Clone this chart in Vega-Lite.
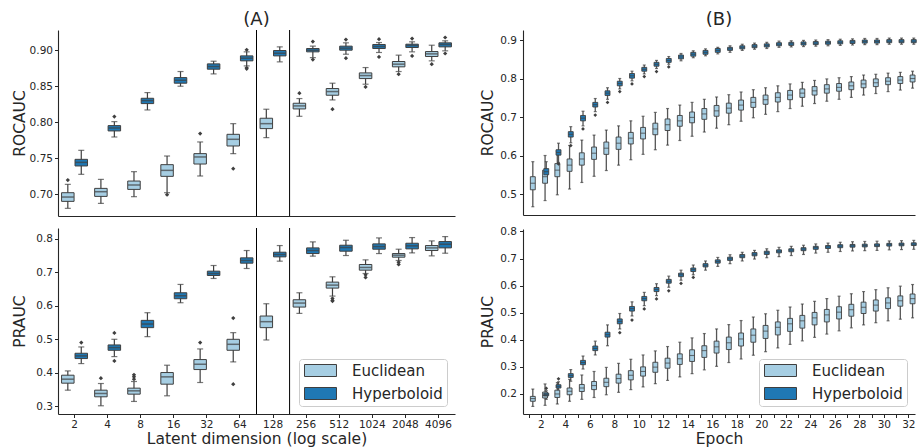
{
"$schema": "https://vega.github.io/schema/vega-lite/v6.json",
"background": "white",
"padding": {"left": 12, "top": 10, "right": 0, "bottom": 0},
"config": {
  "font": "DejaVu Sans",
  "view": {"stroke": null},
  "axis": {"domainColor": "#262626", "tickColor": "#262626", "labelColor": "#262626", "titleColor": "#262626", "labelFontSize": 10.5, "titleFontSize": 15.5, "titleFontWeight": "normal", "tickSize": 3.5, "grid": false, "domainWidth": 1.1, "tickWidth": 1, "labelOverlap": false},
  "title": {"fontSize": 18, "fontWeight": "normal", "color": "#262626", "anchor": "middle", "frame": "group", "offset": 1},
  "legend": {"title": null, "orient": "bottom-right", "offset": 8, "padding": 4, "strokeColor": "#cccccc", "fillColor": "rgba(255,255,255,0.85)", "cornerRadius": 3, "symbolType": "M-1,-1H4.333V1H-1Z", "symbolSize": 144, "symbolStrokeColor": "#3f3f3f", "symbolStrokeWidth": 1, "symbolOpacity": 1, "labelFontSize": 15, "labelColor": "#262626", "labelOffset": 34, "rowPadding": 6, "labelLimit": 300}
},
"datasets": {
  "ar": [
    {"d":2,"s":"Euclidean","lo":0.6806,"q1":0.6903,"md":0.6963,"q3":0.7023,"hi":0.7139},
    {"d":2,"s":"Hyperboloid","lo":0.7278,"q1":0.7394,"md":0.7444,"q3":0.7486,"hi":0.7611},
    {"d":4,"s":"Euclidean","lo":0.6875,"q1":0.6972,"md":0.7037,"q3":0.7083,"hi":0.7208},
    {"d":4,"s":"Hyperboloid","lo":0.7796,"q1":0.7880,"md":0.7921,"q3":0.7954,"hi":0.8009},
    {"d":8,"s":"Euclidean","lo":0.6968,"q1":0.7069,"md":0.7130,"q3":0.7185,"hi":0.7315},
    {"d":8,"s":"Hyperboloid","lo":0.8171,"q1":0.8259,"md":0.8301,"q3":0.8333,"hi":0.8412},
    {"d":16,"s":"Euclidean","lo":0.7023,"q1":0.7250,"md":0.7333,"q3":0.7412,"hi":0.7532},
    {"d":16,"s":"Hyperboloid","lo":0.8500,"q1":0.8542,"md":0.8583,"q3":0.8620,"hi":0.8704},
    {"d":32,"s":"Euclidean","lo":0.7255,"q1":0.7421,"md":0.7519,"q3":0.7565,"hi":0.7727},
    {"d":32,"s":"Hyperboloid","lo":0.8671,"q1":0.8736,"md":0.8773,"q3":0.8810,"hi":0.8847},
    {"d":64,"s":"Euclidean","lo":0.7565,"q1":0.7671,"md":0.7764,"q3":0.7833,"hi":0.7981},
    {"d":64,"s":"Hyperboloid","lo":0.8782,"q1":0.8852,"md":0.8889,"q3":0.8921,"hi":0.8977},
    {"d":128,"s":"Euclidean","lo":0.7787,"q1":0.7912,"md":0.7981,"q3":0.8056,"hi":0.8181},
    {"d":128,"s":"Hyperboloid","lo":0.8838,"q1":0.8921,"md":0.8958,"q3":0.8995,"hi":0.9046},
    {"d":256,"s":"Euclidean","lo":0.8083,"q1":0.8185,"md":0.8227,"q3":0.8264,"hi":0.8329},
    {"d":256,"s":"Hyperboloid","lo":0.8898,"q1":0.8977,"md":0.9000,"q3":0.9023,"hi":0.9056},
    {"d":512,"s":"Euclidean","lo":0.8310,"q1":0.8375,"md":0.8426,"q3":0.8468,"hi":0.8542},
    {"d":512,"s":"Hyperboloid","lo":0.8944,"q1":0.9000,"md":0.9028,"q3":0.9056,"hi":0.9102},
    {"d":1024,"s":"Euclidean","lo":0.8528,"q1":0.8606,"md":0.8648,"q3":0.8685,"hi":0.8759},
    {"d":1024,"s":"Hyperboloid","lo":0.8968,"q1":0.9023,"md":0.9051,"q3":0.9079,"hi":0.9106},
    {"d":2048,"s":"Euclidean","lo":0.8704,"q1":0.8769,"md":0.8806,"q3":0.8843,"hi":0.8931},
    {"d":2048,"s":"Hyperboloid","lo":0.8977,"q1":0.9037,"md":0.9065,"q3":0.9083,"hi":0.9116},
    {"d":4096,"s":"Euclidean","lo":0.8852,"q1":0.8912,"md":0.8949,"q3":0.8981,"hi":0.9069},
    {"d":4096,"s":"Hyperboloid","lo":0.8991,"q1":0.9046,"md":0.9079,"q3":0.9102,"hi":0.9130}
  ],
  "aro": [
    {"d":2,"s":"Euclidean","v":0.7199},
    {"d":4,"s":"Hyperboloid","v":0.8079},
    {"d":16,"s":"Euclidean","v":0.6995},
    {"d":32,"s":"Euclidean","v":0.7843},
    {"d":64,"s":"Euclidean","v":0.7356},
    {"d":64,"s":"Hyperboloid","v":0.9005},
    {"d":64,"s":"Hyperboloid","v":0.8755},
    {"d":64,"s":"Hyperboloid","v":0.8741},
    {"d":256,"s":"Euclidean","v":0.8403},
    {"d":256,"s":"Hyperboloid","v":0.9120},
    {"d":256,"s":"Hyperboloid","v":0.8870},
    {"d":512,"s":"Euclidean","v":0.8181},
    {"d":512,"s":"Hyperboloid","v":0.9148},
    {"d":512,"s":"Hyperboloid","v":0.8889},
    {"d":1024,"s":"Euclidean","v":0.8491},
    {"d":1024,"s":"Hyperboloid","v":0.9153},
    {"d":1024,"s":"Hyperboloid","v":0.8907},
    {"d":2048,"s":"Euclidean","v":0.8667},
    {"d":2048,"s":"Hyperboloid","v":0.9162},
    {"d":2048,"s":"Hyperboloid","v":0.8921},
    {"d":4096,"s":"Euclidean","v":0.8806},
    {"d":4096,"s":"Hyperboloid","v":0.9176},
    {"d":4096,"s":"Hyperboloid","v":0.8954}
  ],
  "ap": [
    {"d":2,"s":"Euclidean","lo":0.3485,"q1":0.3693,"md":0.3812,"q3":0.3931,"hi":0.4059},
    {"d":2,"s":"Hyperboloid","lo":0.4277,"q1":0.4426,"md":0.4505,"q3":0.4584,"hi":0.4772},
    {"d":4,"s":"Euclidean","lo":0.3020,"q1":0.3287,"md":0.3386,"q3":0.3485,"hi":0.3683},
    {"d":4,"s":"Hyperboloid","lo":0.4485,"q1":0.4673,"md":0.4752,"q3":0.4832,"hi":0.5000},
    {"d":8,"s":"Euclidean","lo":0.3149,"q1":0.3366,"md":0.3465,"q3":0.3545,"hi":0.3743},
    {"d":8,"s":"Hyperboloid","lo":0.5079,"q1":0.5347,"md":0.5455,"q3":0.5564,"hi":0.5792},
    {"d":16,"s":"Euclidean","lo":0.3317,"q1":0.3663,"md":0.3881,"q3":0.4010,"hi":0.4228},
    {"d":16,"s":"Hyperboloid","lo":0.6089,"q1":0.6208,"md":0.6297,"q3":0.6386,"hi":0.6634},
    {"d":32,"s":"Euclidean","lo":0.3713,"q1":0.4099,"md":0.4257,"q3":0.4396,"hi":0.4713},
    {"d":32,"s":"Hyperboloid","lo":0.6812,"q1":0.6901,"md":0.6960,"q3":0.7030,"hi":0.7198},
    {"d":64,"s":"Euclidean","lo":0.4327,"q1":0.4673,"md":0.4851,"q3":0.5000,"hi":0.5198},
    {"d":64,"s":"Hyperboloid","lo":0.7109,"q1":0.7267,"md":0.7347,"q3":0.7426,"hi":0.7644},
    {"d":128,"s":"Euclidean","lo":0.4980,"q1":0.5347,"md":0.5525,"q3":0.5693,"hi":0.6059},
    {"d":128,"s":"Hyperboloid","lo":0.7327,"q1":0.7455,"md":0.7525,"q3":0.7594,"hi":0.7792},
    {"d":256,"s":"Euclidean","lo":0.5772,"q1":0.5960,"md":0.6079,"q3":0.6178,"hi":0.6386},
    {"d":256,"s":"Hyperboloid","lo":0.7475,"q1":0.7554,"md":0.7644,"q3":0.7723,"hi":0.7901},
    {"d":512,"s":"Euclidean","lo":0.6287,"q1":0.6525,"md":0.6614,"q3":0.6703,"hi":0.6861},
    {"d":512,"s":"Hyperboloid","lo":0.7495,"q1":0.7624,"md":0.7733,"q3":0.7802,"hi":0.7950},
    {"d":1024,"s":"Euclidean","lo":0.6960,"q1":0.7059,"md":0.7139,"q3":0.7228,"hi":0.7366},
    {"d":1024,"s":"Hyperboloid","lo":0.7554,"q1":0.7683,"md":0.7762,"q3":0.7842,"hi":0.8020},
    {"d":2048,"s":"Euclidean","lo":0.7347,"q1":0.7446,"md":0.7505,"q3":0.7554,"hi":0.7683},
    {"d":2048,"s":"Hyperboloid","lo":0.7574,"q1":0.7693,"md":0.7782,"q3":0.7861,"hi":0.8030},
    {"d":4096,"s":"Euclidean","lo":0.7485,"q1":0.7644,"md":0.7723,"q3":0.7792,"hi":0.7931},
    {"d":4096,"s":"Hyperboloid","lo":0.7564,"q1":0.7723,"md":0.7832,"q3":0.7911,"hi":0.8059}
  ],
  "apo": [
    {"d":2,"s":"Hyperboloid","v":0.4901},
    {"d":4,"s":"Euclidean","v":0.3842},
    {"d":4,"s":"Hyperboloid","v":0.5188},
    {"d":4,"s":"Hyperboloid","v":0.4356},
    {"d":8,"s":"Euclidean","v":0.3941},
    {"d":8,"s":"Euclidean","v":0.3881},
    {"d":8,"s":"Euclidean","v":0.3812},
    {"d":32,"s":"Euclidean","v":0.4901},
    {"d":64,"s":"Euclidean","v":0.5634},
    {"d":64,"s":"Euclidean","v":0.3663},
    {"d":512,"s":"Euclidean","v":0.6218},
    {"d":512,"s":"Euclidean","v":0.6158},
    {"d":512,"s":"Euclidean","v":0.6139},
    {"d":1024,"s":"Euclidean","v":0.6921},
    {"d":1024,"s":"Euclidean","v":0.6842},
    {"d":2048,"s":"Euclidean","v":0.7297},
    {"d":2048,"s":"Euclidean","v":0.7228}
  ],
  "br": [
    {"d":1,"s":"Euclidean","lo":0.467,"q1":0.511,"md":0.528,"q3":0.545,"hi":0.584},
    {"d":2,"s":"Euclidean","lo":0.483,"q1":0.528,"md":0.545,"q3":0.562,"hi":0.600},
    {"d":3,"s":"Euclidean","lo":0.498,"q1":0.545,"md":0.562,"q3":0.579,"hi":0.611},
    {"d":4,"s":"Euclidean","lo":0.513,"q1":0.559,"md":0.575,"q3":0.591,"hi":0.626},
    {"d":5,"s":"Euclidean","lo":0.530,"q1":0.575,"md":0.591,"q3":0.607,"hi":0.640},
    {"d":6,"s":"Euclidean","lo":0.546,"q1":0.590,"md":0.606,"q3":0.622,"hi":0.653},
    {"d":7,"s":"Euclidean","lo":0.561,"q1":0.603,"md":0.619,"q3":0.635,"hi":0.666},
    {"d":8,"s":"Euclidean","lo":0.575,"q1":0.616,"md":0.632,"q3":0.648,"hi":0.677},
    {"d":9,"s":"Euclidean","lo":0.589,"q1":0.630,"md":0.645,"q3":0.660,"hi":0.690},
    {"d":10,"s":"Euclidean","lo":0.603,"q1":0.643,"md":0.658,"q3":0.673,"hi":0.702},
    {"d":11,"s":"Euclidean","lo":0.615,"q1":0.654,"md":0.669,"q3":0.684,"hi":0.712},
    {"d":12,"s":"Euclidean","lo":0.627,"q1":0.665,"md":0.680,"q3":0.695,"hi":0.722},
    {"d":13,"s":"Euclidean","lo":0.639,"q1":0.676,"md":0.690,"q3":0.704,"hi":0.731},
    {"d":14,"s":"Euclidean","lo":0.650,"q1":0.685,"md":0.699,"q3":0.713,"hi":0.738},
    {"d":15,"s":"Euclidean","lo":0.661,"q1":0.694,"md":0.708,"q3":0.722,"hi":0.746},
    {"d":16,"s":"Euclidean","lo":0.671,"q1":0.702,"md":0.716,"q3":0.730,"hi":0.752},
    {"d":17,"s":"Euclidean","lo":0.680,"q1":0.710,"md":0.723,"q3":0.736,"hi":0.758},
    {"d":18,"s":"Euclidean","lo":0.689,"q1":0.718,"md":0.731,"q3":0.744,"hi":0.765},
    {"d":19,"s":"Euclidean","lo":0.698,"q1":0.725,"md":0.738,"q3":0.751,"hi":0.771},
    {"d":20,"s":"Euclidean","lo":0.707,"q1":0.733,"md":0.745,"q3":0.757,"hi":0.776},
    {"d":21,"s":"Euclidean","lo":0.714,"q1":0.739,"md":0.751,"q3":0.763,"hi":0.781},
    {"d":22,"s":"Euclidean","lo":0.722,"q1":0.745,"md":0.757,"q3":0.769,"hi":0.786},
    {"d":23,"s":"Euclidean","lo":0.728,"q1":0.751,"md":0.762,"q3":0.773,"hi":0.790},
    {"d":24,"s":"Euclidean","lo":0.735,"q1":0.757,"md":0.768,"q3":0.779,"hi":0.795},
    {"d":25,"s":"Euclidean","lo":0.741,"q1":0.762,"md":0.773,"q3":0.784,"hi":0.799},
    {"d":26,"s":"Euclidean","lo":0.746,"q1":0.767,"md":0.777,"q3":0.787,"hi":0.802},
    {"d":27,"s":"Euclidean","lo":0.751,"q1":0.771,"md":0.781,"q3":0.791,"hi":0.805},
    {"d":28,"s":"Euclidean","lo":0.757,"q1":0.776,"md":0.786,"q3":0.796,"hi":0.809},
    {"d":29,"s":"Euclidean","lo":0.761,"q1":0.779,"md":0.789,"q3":0.799,"hi":0.811},
    {"d":30,"s":"Euclidean","lo":0.766,"q1":0.784,"md":0.793,"q3":0.802,"hi":0.814},
    {"d":31,"s":"Euclidean","lo":0.770,"q1":0.787,"md":0.796,"q3":0.805,"hi":0.816},
    {"d":32,"s":"Euclidean","lo":0.775,"q1":0.791,"md":0.800,"q3":0.809,"hi":0.819},
    {"d":1,"s":"Hyperboloid","lo":0.530,"q1":0.550,"md":0.558,"q3":0.566,"hi":0.584},
    {"d":2,"s":"Hyperboloid","lo":0.582,"q1":0.601,"md":0.608,"q3":0.615,"hi":0.632},
    {"d":3,"s":"Hyperboloid","lo":0.633,"q1":0.648,"md":0.655,"q3":0.662,"hi":0.675},
    {"d":4,"s":"Hyperboloid","lo":0.677,"q1":0.690,"md":0.697,"q3":0.704,"hi":0.715},
    {"d":5,"s":"Hyperboloid","lo":0.714,"q1":0.726,"md":0.732,"q3":0.738,"hi":0.748},
    {"d":6,"s":"Hyperboloid","lo":0.746,"q1":0.756,"md":0.762,"q3":0.768,"hi":0.776},
    {"d":7,"s":"Hyperboloid","lo":0.773,"q1":0.781,"md":0.787,"q3":0.793,"hi":0.800},
    {"d":8,"s":"Hyperboloid","lo":0.794,"q1":0.801,"md":0.807,"q3":0.813,"hi":0.819},
    {"d":9,"s":"Hyperboloid","lo":0.812,"q1":0.819,"md":0.824,"q3":0.829,"hi":0.835},
    {"d":10,"s":"Hyperboloid","lo":0.826,"q1":0.832,"md":0.837,"q3":0.842,"hi":0.847},
    {"d":11,"s":"Hyperboloid","lo":0.837,"q1":0.842,"md":0.847,"q3":0.852,"hi":0.857},
    {"d":12,"s":"Hyperboloid","lo":0.846,"q1":0.851,"md":0.856,"q3":0.861,"hi":0.865},
    {"d":13,"s":"Hyperboloid","lo":0.854,"q1":0.858,"md":0.863,"q3":0.868,"hi":0.872},
    {"d":14,"s":"Hyperboloid","lo":0.859,"q1":0.863,"md":0.868,"q3":0.873,"hi":0.877},
    {"d":15,"s":"Hyperboloid","lo":0.864,"q1":0.868,"md":0.873,"q3":0.878,"hi":0.881},
    {"d":16,"s":"Hyperboloid","lo":0.868,"q1":0.873,"md":0.877,"q3":0.881,"hi":0.885},
    {"d":17,"s":"Hyperboloid","lo":0.873,"q1":0.877,"md":0.881,"q3":0.885,"hi":0.889},
    {"d":18,"s":"Hyperboloid","lo":0.876,"q1":0.880,"md":0.884,"q3":0.888,"hi":0.892},
    {"d":19,"s":"Hyperboloid","lo":0.878,"q1":0.882,"md":0.886,"q3":0.890,"hi":0.894},
    {"d":20,"s":"Hyperboloid","lo":0.881,"q1":0.885,"md":0.889,"q3":0.893,"hi":0.897},
    {"d":21,"s":"Hyperboloid","lo":0.882,"q1":0.886,"md":0.890,"q3":0.894,"hi":0.898},
    {"d":22,"s":"Hyperboloid","lo":0.883,"q1":0.887,"md":0.891,"q3":0.895,"hi":0.899},
    {"d":23,"s":"Hyperboloid","lo":0.884,"q1":0.888,"md":0.892,"q3":0.896,"hi":0.900},
    {"d":24,"s":"Hyperboloid","lo":0.885,"q1":0.889,"md":0.893,"q3":0.897,"hi":0.901},
    {"d":25,"s":"Hyperboloid","lo":0.886,"q1":0.890,"md":0.894,"q3":0.898,"hi":0.902},
    {"d":26,"s":"Hyperboloid","lo":0.887,"q1":0.891,"md":0.895,"q3":0.899,"hi":0.903},
    {"d":27,"s":"Hyperboloid","lo":0.888,"q1":0.892,"md":0.896,"q3":0.900,"hi":0.904},
    {"d":28,"s":"Hyperboloid","lo":0.888,"q1":0.892,"md":0.896,"q3":0.900,"hi":0.904},
    {"d":29,"s":"Hyperboloid","lo":0.889,"q1":0.893,"md":0.897,"q3":0.901,"hi":0.905},
    {"d":30,"s":"Hyperboloid","lo":0.889,"q1":0.893,"md":0.897,"q3":0.901,"hi":0.905},
    {"d":31,"s":"Hyperboloid","lo":0.889,"q1":0.893,"md":0.897,"q3":0.901,"hi":0.905},
    {"d":32,"s":"Hyperboloid","lo":0.890,"q1":0.894,"md":0.898,"q3":0.902,"hi":0.906}
  ],
  "bro": [
    {"d":2,"s":"Hyperboloid","v":0.578},
    {"d":3,"s":"Hyperboloid","v":0.626},
    {"d":4,"s":"Hyperboloid","v":0.669},
    {"d":5,"s":"Hyperboloid","v":0.705},
    {"d":6,"s":"Hyperboloid","v":0.738},
    {"d":7,"s":"Hyperboloid","v":0.766},
    {"d":8,"s":"Hyperboloid","v":0.786},
    {"d":9,"s":"Hyperboloid","v":0.805},
    {"d":10,"s":"Hyperboloid","v":0.818},
    {"d":11,"s":"Hyperboloid","v":0.830}
  ],
  "bp": [
    {"d":1,"s":"Euclidean","lo":0.154,"q1":0.173,"md":0.183,"q3":0.191,"hi":0.218},
    {"d":2,"s":"Euclidean","lo":0.158,"q1":0.185,"md":0.194,"q3":0.207,"hi":0.237},
    {"d":3,"s":"Euclidean","lo":0.163,"q1":0.187,"md":0.200,"q3":0.214,"hi":0.242},
    {"d":4,"s":"Euclidean","lo":0.173,"q1":0.197,"md":0.210,"q3":0.222,"hi":0.254},
    {"d":5,"s":"Euclidean","lo":0.180,"q1":0.209,"md":0.222,"q3":0.235,"hi":0.270},
    {"d":6,"s":"Euclidean","lo":0.187,"q1":0.216,"md":0.231,"q3":0.246,"hi":0.283},
    {"d":7,"s":"Euclidean","lo":0.197,"q1":0.227,"md":0.243,"q3":0.258,"hi":0.298},
    {"d":8,"s":"Euclidean","lo":0.206,"q1":0.240,"md":0.257,"q3":0.273,"hi":0.313},
    {"d":9,"s":"Euclidean","lo":0.216,"q1":0.252,"md":0.269,"q3":0.286,"hi":0.328},
    {"d":10,"s":"Euclidean","lo":0.226,"q1":0.266,"md":0.283,"q3":0.300,"hi":0.344},
    {"d":11,"s":"Euclidean","lo":0.238,"q1":0.280,"md":0.299,"q3":0.317,"hi":0.359},
    {"d":12,"s":"Euclidean","lo":0.250,"q1":0.295,"md":0.314,"q3":0.332,"hi":0.375},
    {"d":13,"s":"Euclidean","lo":0.263,"q1":0.309,"md":0.330,"q3":0.348,"hi":0.391},
    {"d":14,"s":"Euclidean","lo":0.275,"q1":0.320,"md":0.342,"q3":0.363,"hi":0.407},
    {"d":15,"s":"Euclidean","lo":0.289,"q1":0.335,"md":0.360,"q3":0.378,"hi":0.423},
    {"d":16,"s":"Euclidean","lo":0.302,"q1":0.351,"md":0.374,"q3":0.395,"hi":0.440},
    {"d":17,"s":"Euclidean","lo":0.316,"q1":0.364,"md":0.389,"q3":0.410,"hi":0.456},
    {"d":18,"s":"Euclidean","lo":0.329,"q1":0.377,"md":0.403,"q3":0.425,"hi":0.471},
    {"d":19,"s":"Euclidean","lo":0.343,"q1":0.391,"md":0.417,"q3":0.440,"hi":0.484},
    {"d":20,"s":"Euclidean","lo":0.356,"q1":0.405,"md":0.432,"q3":0.453,"hi":0.496},
    {"d":21,"s":"Euclidean","lo":0.370,"q1":0.418,"md":0.446,"q3":0.466,"hi":0.509},
    {"d":22,"s":"Euclidean","lo":0.383,"q1":0.431,"md":0.459,"q3":0.479,"hi":0.521},
    {"d":23,"s":"Euclidean","lo":0.396,"q1":0.443,"md":0.470,"q3":0.490,"hi":0.532},
    {"d":24,"s":"Euclidean","lo":0.409,"q1":0.455,"md":0.481,"q3":0.501,"hi":0.542},
    {"d":25,"s":"Euclidean","lo":0.421,"q1":0.466,"md":0.492,"q3":0.512,"hi":0.552},
    {"d":26,"s":"Euclidean","lo":0.433,"q1":0.477,"md":0.502,"q3":0.522,"hi":0.561},
    {"d":27,"s":"Euclidean","lo":0.444,"q1":0.487,"md":0.511,"q3":0.531,"hi":0.570},
    {"d":28,"s":"Euclidean","lo":0.455,"q1":0.497,"md":0.520,"q3":0.539,"hi":0.578},
    {"d":29,"s":"Euclidean","lo":0.463,"q1":0.506,"md":0.528,"q3":0.547,"hi":0.585},
    {"d":30,"s":"Euclidean","lo":0.470,"q1":0.515,"md":0.536,"q3":0.555,"hi":0.592},
    {"d":31,"s":"Euclidean","lo":0.476,"q1":0.524,"md":0.544,"q3":0.562,"hi":0.598},
    {"d":32,"s":"Euclidean","lo":0.481,"q1":0.533,"md":0.552,"q3":0.569,"hi":0.604},
    {"d":1,"s":"Hyperboloid","lo":0.180,"q1":0.193,"md":0.198,"q3":0.203,"hi":0.212},
    {"d":2,"s":"Hyperboloid","lo":0.208,"q1":0.222,"md":0.228,"q3":0.234,"hi":0.245},
    {"d":3,"s":"Hyperboloid","lo":0.247,"q1":0.261,"md":0.268,"q3":0.275,"hi":0.290},
    {"d":4,"s":"Hyperboloid","lo":0.292,"q1":0.308,"md":0.316,"q3":0.324,"hi":0.340},
    {"d":5,"s":"Hyperboloid","lo":0.344,"q1":0.360,"md":0.368,"q3":0.377,"hi":0.395},
    {"d":6,"s":"Hyperboloid","lo":0.378,"q1":0.410,"md":0.419,"q3":0.428,"hi":0.455},
    {"d":7,"s":"Hyperboloid","lo":0.440,"q1":0.459,"md":0.468,"q3":0.477,"hi":0.497},
    {"d":8,"s":"Hyperboloid","lo":0.488,"q1":0.506,"md":0.515,"q3":0.523,"hi":0.540},
    {"d":9,"s":"Hyperboloid","lo":0.526,"q1":0.544,"md":0.552,"q3":0.560,"hi":0.575},
    {"d":10,"s":"Hyperboloid","lo":0.563,"q1":0.578,"md":0.586,"q3":0.593,"hi":0.607},
    {"d":11,"s":"Hyperboloid","lo":0.594,"q1":0.609,"md":0.616,"q3":0.623,"hi":0.635},
    {"d":12,"s":"Hyperboloid","lo":0.620,"q1":0.633,"md":0.640,"q3":0.646,"hi":0.657},
    {"d":13,"s":"Hyperboloid","lo":0.640,"q1":0.652,"md":0.659,"q3":0.665,"hi":0.676},
    {"d":14,"s":"Hyperboloid","lo":0.657,"q1":0.669,"md":0.675,"q3":0.681,"hi":0.691},
    {"d":15,"s":"Hyperboloid","lo":0.671,"q1":0.683,"md":0.689,"q3":0.695,"hi":0.704},
    {"d":16,"s":"Hyperboloid","lo":0.681,"q1":0.693,"md":0.699,"q3":0.705,"hi":0.714},
    {"d":17,"s":"Hyperboloid","lo":0.691,"q1":0.703,"md":0.709,"q3":0.715,"hi":0.723},
    {"d":18,"s":"Hyperboloid","lo":0.698,"q1":0.710,"md":0.716,"q3":0.722,"hi":0.730},
    {"d":19,"s":"Hyperboloid","lo":0.703,"q1":0.715,"md":0.721,"q3":0.727,"hi":0.736},
    {"d":20,"s":"Hyperboloid","lo":0.707,"q1":0.721,"md":0.727,"q3":0.732,"hi":0.741},
    {"d":21,"s":"Hyperboloid","lo":0.711,"q1":0.725,"md":0.731,"q3":0.736,"hi":0.745},
    {"d":22,"s":"Hyperboloid","lo":0.715,"q1":0.729,"md":0.735,"q3":0.740,"hi":0.749},
    {"d":23,"s":"Hyperboloid","lo":0.720,"q1":0.734,"md":0.740,"q3":0.745,"hi":0.754},
    {"d":24,"s":"Hyperboloid","lo":0.723,"q1":0.737,"md":0.743,"q3":0.748,"hi":0.757},
    {"d":25,"s":"Hyperboloid","lo":0.726,"q1":0.740,"md":0.746,"q3":0.751,"hi":0.760},
    {"d":26,"s":"Hyperboloid","lo":0.728,"q1":0.742,"md":0.747,"q3":0.752,"hi":0.762},
    {"d":27,"s":"Hyperboloid","lo":0.729,"q1":0.743,"md":0.748,"q3":0.753,"hi":0.763},
    {"d":28,"s":"Hyperboloid","lo":0.730,"q1":0.744,"md":0.749,"q3":0.754,"hi":0.764},
    {"d":29,"s":"Hyperboloid","lo":0.732,"q1":0.746,"md":0.751,"q3":0.756,"hi":0.765},
    {"d":30,"s":"Hyperboloid","lo":0.733,"q1":0.747,"md":0.752,"q3":0.757,"hi":0.766},
    {"d":31,"s":"Hyperboloid","lo":0.734,"q1":0.748,"md":0.753,"q3":0.758,"hi":0.767},
    {"d":32,"s":"Hyperboloid","lo":0.734,"q1":0.748,"md":0.753,"q3":0.758,"hi":0.767}
  ],
  "bpo": [
    {"d":1,"s":"Hyperboloid","v":0.221},
    {"d":2,"s":"Hyperboloid","v":0.256},
    {"d":7,"s":"Hyperboloid","v":0.426},
    {"d":8,"s":"Hyperboloid","v":0.473},
    {"d":9,"s":"Hyperboloid","v":0.514},
    {"d":10,"s":"Hyperboloid","v":0.551},
    {"d":11,"s":"Hyperboloid","v":0.581},
    {"d":12,"s":"Hyperboloid","v":0.608},
    {"d":13,"s":"Hyperboloid","v":0.630}
  ]
},
"spacing": 25,
"resolve": {"scale": {"color": "independent"}, "legend": {"color": "independent"}},
"hconcat": [
  {
    "spacing": 10,
    "resolve": {"scale": {"color": "independent"}, "legend": {"color": "independent"}},
    "vconcat": [
      {
        "width": 397, "height": 186,
        "title": {"text": "(A)"},
        "encoding": {"x": {"field": "d", "type": "ordinal", "scale": {"paddingInner": 0, "paddingOuter": 0}, "axis": {"title": null, "labels": false, "ticks": false}}},
        "layer": [
          {"data": {"name": "ar"}, "mark": {"type": "rule", "color": "#3f3f3f", "strokeWidth": 1.2},
           "encoding": {"xOffset": {"field": "s", "type": "nominal", "scale": {"paddingInner": 0.04, "paddingOuter": 0.25}},
             "y": {"field": "lo", "type": "quantitative", "title": "ROCAUC", "scale": {"domain": [0.67, 0.928], "nice": false, "zero": false}, "axis": {"values": [0.7, 0.75, 0.8, 0.85, 0.9], "format": ".2f", "labelPadding": 2, "titlePadding": 1.8, "labelOverlap": false}},
             "y2": {"field": "hi"}}},
          {"data": {"name": "ar"}, "mark": {"type": "tick", "color": "#3f3f3f", "size": 6, "thickness": 1.2},
           "encoding": {"xOffset": {"field": "s", "type": "nominal", "scale": {"paddingInner": 0.04, "paddingOuter": 0.25}}, "y": {"field": "lo", "type": "quantitative", "title": "ROCAUC", "axis": {"values": [0.7, 0.75, 0.8, 0.85, 0.9], "format": ".2f", "labelPadding": 2, "titlePadding": 1.8, "labelOverlap": false}}}},
          {"data": {"name": "ar"}, "mark": {"type": "tick", "color": "#3f3f3f", "size": 6, "thickness": 1.2},
           "encoding": {"xOffset": {"field": "s", "type": "nominal", "scale": {"paddingInner": 0.04, "paddingOuter": 0.25}}, "y": {"field": "hi", "type": "quantitative", "title": "ROCAUC", "axis": {"values": [0.7, 0.75, 0.8, 0.85, 0.9], "format": ".2f", "labelPadding": 2, "titlePadding": 1.8, "labelOverlap": false}}}},
          {"data": {"name": "ar"}, "mark": {"type": "bar", "stroke": "#3f3f3f", "strokeWidth": 1, "opacity": 1, "width": 12.5},
           "encoding": {"xOffset": {"field": "s", "type": "nominal", "scale": {"paddingInner": 0.04, "paddingOuter": 0.25}}, "y": {"field": "q1", "type": "quantitative", "title": "ROCAUC", "axis": {"values": [0.7, 0.75, 0.8, 0.85, 0.9], "format": ".2f", "labelPadding": 2, "titlePadding": 1.8, "labelOverlap": false}}, "y2": {"field": "q3"},
             "color": {"field": "s", "type": "nominal", "scale": {"domain": ["Euclidean", "Hyperboloid"], "range": ["#a6cee3", "#1f78b4"]}, "legend": null}}},
          {"data": {"name": "ar"}, "mark": {"type": "tick", "color": "#3f3f3f", "size": 12, "thickness": 1.5},
           "encoding": {"xOffset": {"field": "s", "type": "nominal", "scale": {"paddingInner": 0.04, "paddingOuter": 0.25}}, "y": {"field": "md", "type": "quantitative", "title": "ROCAUC", "axis": {"values": [0.7, 0.75, 0.8, 0.85, 0.9], "format": ".2f", "labelPadding": 2, "titlePadding": 1.8, "labelOverlap": false}}}},
          {"data": {"name": "aro"}, "mark": {"type": "point", "shape": "diamond", "filled": true, "color": "#3f3f3f", "size": 18, "opacity": 1},
           "encoding": {"xOffset": {"field": "s", "type": "nominal", "scale": {"paddingInner": 0.04, "paddingOuter": 0.25}}, "y": {"field": "v", "type": "quantitative", "title": "ROCAUC", "axis": {"values": [0.7, 0.75, 0.8, 0.85, 0.9], "format": ".2f", "labelPadding": 2, "titlePadding": 1.8, "labelOverlap": false}}}},
          {"data": {"values": [{"d": 128}]}, "mark": {"type": "rule", "color": "#000000", "strokeWidth": 1},
           "encoding": {"x": {"field": "d", "type": "ordinal", "bandPosition": 0}}},
          {"data": {"values": [{"d": 128}]}, "mark": {"type": "rule", "color": "#000000", "strokeWidth": 1},
           "encoding": {"x": {"field": "d", "type": "ordinal", "bandPosition": 1}}}
        ]
      },
      {
        "width": 397, "height": 186,
        "encoding": {"x": {"field": "d", "type": "ordinal", "scale": {"paddingInner": 0, "paddingOuter": 0}, "axis": {"title": "Latent dimension (log scale)", "labelAngle": 0, "labelPadding": 2, "titlePadding": 1}}},
        "layer": [
          {"data": {"name": "ap"}, "mark": {"type": "rule", "color": "#3f3f3f", "strokeWidth": 1.2},
           "encoding": {"xOffset": {"field": "s", "type": "nominal", "scale": {"paddingInner": 0.04, "paddingOuter": 0.25}},
             "y": {"field": "lo", "type": "quantitative", "title": "PRAUC", "scale": {"domain": [0.2775, 0.8315], "nice": false, "zero": false}, "axis": {"values": [0.3, 0.4, 0.5, 0.6, 0.7, 0.8], "format": ".1f", "labelPadding": 2, "titlePadding": 8.4, "labelOverlap": false}},
             "y2": {"field": "hi"}}},
          {"data": {"name": "ap"}, "mark": {"type": "tick", "color": "#3f3f3f", "size": 6, "thickness": 1.2},
           "encoding": {"xOffset": {"field": "s", "type": "nominal", "scale": {"paddingInner": 0.04, "paddingOuter": 0.25}}, "y": {"field": "lo", "type": "quantitative", "title": "PRAUC", "axis": {"values": [0.3, 0.4, 0.5, 0.6, 0.7, 0.8], "format": ".1f", "labelPadding": 2, "titlePadding": 8.4, "labelOverlap": false}}}},
          {"data": {"name": "ap"}, "mark": {"type": "tick", "color": "#3f3f3f", "size": 6, "thickness": 1.2},
           "encoding": {"xOffset": {"field": "s", "type": "nominal", "scale": {"paddingInner": 0.04, "paddingOuter": 0.25}}, "y": {"field": "hi", "type": "quantitative", "title": "PRAUC", "axis": {"values": [0.3, 0.4, 0.5, 0.6, 0.7, 0.8], "format": ".1f", "labelPadding": 2, "titlePadding": 8.4, "labelOverlap": false}}}},
          {"data": {"name": "ap"}, "mark": {"type": "bar", "stroke": "#3f3f3f", "strokeWidth": 1, "opacity": 1, "width": 12.5},
           "encoding": {"xOffset": {"field": "s", "type": "nominal", "scale": {"paddingInner": 0.04, "paddingOuter": 0.25}}, "y": {"field": "q1", "type": "quantitative", "title": "PRAUC", "axis": {"values": [0.3, 0.4, 0.5, 0.6, 0.7, 0.8], "format": ".1f", "labelPadding": 2, "titlePadding": 8.4, "labelOverlap": false}}, "y2": {"field": "q3"},
             "color": {"field": "s", "type": "nominal", "scale": {"domain": ["Euclidean", "Hyperboloid"], "range": ["#a6cee3", "#1f78b4"]}}}},
          {"data": {"name": "ap"}, "mark": {"type": "tick", "color": "#3f3f3f", "size": 12, "thickness": 1.5},
           "encoding": {"xOffset": {"field": "s", "type": "nominal", "scale": {"paddingInner": 0.04, "paddingOuter": 0.25}}, "y": {"field": "md", "type": "quantitative", "title": "PRAUC", "axis": {"values": [0.3, 0.4, 0.5, 0.6, 0.7, 0.8], "format": ".1f", "labelPadding": 2, "titlePadding": 8.4, "labelOverlap": false}}}},
          {"data": {"name": "apo"}, "mark": {"type": "point", "shape": "diamond", "filled": true, "color": "#3f3f3f", "size": 18, "opacity": 1},
           "encoding": {"xOffset": {"field": "s", "type": "nominal", "scale": {"paddingInner": 0.04, "paddingOuter": 0.25}}, "y": {"field": "v", "type": "quantitative", "title": "PRAUC", "axis": {"values": [0.3, 0.4, 0.5, 0.6, 0.7, 0.8], "format": ".1f", "labelPadding": 2, "titlePadding": 8.4, "labelOverlap": false}}}},
          {"data": {"values": [{"d": 128}]}, "mark": {"type": "rule", "color": "#000000", "strokeWidth": 1},
           "encoding": {"x": {"field": "d", "type": "ordinal", "bandPosition": 0}}},
          {"data": {"values": [{"d": 128}]}, "mark": {"type": "rule", "color": "#000000", "strokeWidth": 1},
           "encoding": {"x": {"field": "d", "type": "ordinal", "bandPosition": 1}}}
        ]
      }
    ]
  },
  {
    "spacing": 11,
    "resolve": {"scale": {"color": "independent"}, "legend": {"color": "independent"}},
    "vconcat": [
      {
        "width": 392, "height": 185,
        "title": {"text": "(B)"},
        "encoding": {"x": {"field": "d", "type": "ordinal", "scale": {"paddingInner": 0, "paddingOuter": 0}, "axis": {"title": null, "labels": false, "ticks": false}}},
        "layer": [
          {"data": {"name": "br"}, "mark": {"type": "rule", "color": "#555555", "strokeWidth": 1.3},
           "encoding": {"xOffset": {"field": "s", "type": "nominal", "scale": {"paddingInner": 0.04, "paddingOuter": 0.25}},
             "y": {"field": "lo", "type": "quantitative", "title": "ROCAUC", "scale": {"domain": [0.4455, 0.926], "nice": false, "zero": false}, "axis": {"values": [0.5, 0.6, 0.7, 0.8, 0.9], "format": ".1f", "labelPadding": 3, "titlePadding": 4.7, "labelOverlap": false}},
             "y2": {"field": "hi"}}},
          {"data": {"name": "br"}, "mark": {"type": "tick", "color": "#3f3f3f", "size": 3, "thickness": 1.2},
           "encoding": {"xOffset": {"field": "s", "type": "nominal", "scale": {"paddingInner": 0.04, "paddingOuter": 0.25}}, "y": {"field": "lo", "type": "quantitative", "title": "ROCAUC", "axis": {"values": [0.5, 0.6, 0.7, 0.8, 0.9], "format": ".1f", "labelPadding": 3, "titlePadding": 4.7, "labelOverlap": false}}}},
          {"data": {"name": "br"}, "mark": {"type": "tick", "color": "#3f3f3f", "size": 3, "thickness": 1.2},
           "encoding": {"xOffset": {"field": "s", "type": "nominal", "scale": {"paddingInner": 0.04, "paddingOuter": 0.25}}, "y": {"field": "hi", "type": "quantitative", "title": "ROCAUC", "axis": {"values": [0.5, 0.6, 0.7, 0.8, 0.9], "format": ".1f", "labelPadding": 3, "titlePadding": 4.7, "labelOverlap": false}}}},
          {"data": {"name": "br"}, "mark": {"type": "bar", "stroke": "#3f3f3f", "strokeWidth": 0.9, "opacity": 1, "width": 4.9},
           "encoding": {"xOffset": {"field": "s", "type": "nominal", "scale": {"paddingInner": 0.04, "paddingOuter": 0.25}}, "y": {"field": "q1", "type": "quantitative", "title": "ROCAUC", "axis": {"values": [0.5, 0.6, 0.7, 0.8, 0.9], "format": ".1f", "labelPadding": 3, "titlePadding": 4.7, "labelOverlap": false}}, "y2": {"field": "q3"},
             "color": {"field": "s", "type": "nominal", "scale": {"domain": ["Euclidean", "Hyperboloid"], "range": ["#a6cee3", "#1f78b4"]}, "legend": null}}},
          {"data": {"name": "br"}, "mark": {"type": "tick", "color": "#3f3f3f", "size": 5, "thickness": 1.1},
           "encoding": {"xOffset": {"field": "s", "type": "nominal", "scale": {"paddingInner": 0.04, "paddingOuter": 0.25}}, "y": {"field": "md", "type": "quantitative", "title": "ROCAUC", "axis": {"values": [0.5, 0.6, 0.7, 0.8, 0.9], "format": ".1f", "labelPadding": 3, "titlePadding": 4.7, "labelOverlap": false}}}},
          {"data": {"name": "bro"}, "mark": {"type": "point", "shape": "diamond", "filled": true, "color": "#3f3f3f", "size": 14, "opacity": 1},
           "encoding": {"xOffset": {"field": "s", "type": "nominal", "scale": {"paddingInner": 0.04, "paddingOuter": 0.25}}, "y": {"field": "v", "type": "quantitative", "title": "ROCAUC", "axis": {"values": [0.5, 0.6, 0.7, 0.8, 0.9], "format": ".1f", "labelPadding": 3, "titlePadding": 4.7, "labelOverlap": false}}}}
        ]
      },
      {
        "width": 392, "height": 185,
        "encoding": {"x": {"field": "d", "type": "ordinal", "scale": {"paddingInner": 0, "paddingOuter": 0}, "axis": {"title": "Epoch", "labelAngle": 0, "labelPadding": 2, "titlePadding": 1, "labelExpr": "datum.value % 2 == 0 ? datum.label : ''"}}},
        "layer": [
          {"data": {"name": "bp"}, "mark": {"type": "rule", "color": "#555555", "strokeWidth": 1.3},
           "encoding": {"xOffset": {"field": "s", "type": "nominal", "scale": {"paddingInner": 0.04, "paddingOuter": 0.25}},
             "y": {"field": "lo", "type": "quantitative", "title": "PRAUC", "scale": {"domain": [0.126, 0.809], "nice": false, "zero": false}, "axis": {"values": [0.2, 0.3, 0.4, 0.5, 0.6, 0.7, 0.8], "format": ".1f", "labelPadding": 3, "titlePadding": 4.7, "labelOverlap": false}},
             "y2": {"field": "hi"}}},
          {"data": {"name": "bp"}, "mark": {"type": "tick", "color": "#3f3f3f", "size": 3, "thickness": 1.2},
           "encoding": {"xOffset": {"field": "s", "type": "nominal", "scale": {"paddingInner": 0.04, "paddingOuter": 0.25}}, "y": {"field": "lo", "type": "quantitative", "title": "PRAUC", "axis": {"values": [0.2, 0.3, 0.4, 0.5, 0.6, 0.7, 0.8], "format": ".1f", "labelPadding": 3, "titlePadding": 4.7, "labelOverlap": false}}}},
          {"data": {"name": "bp"}, "mark": {"type": "tick", "color": "#3f3f3f", "size": 3, "thickness": 1.2},
           "encoding": {"xOffset": {"field": "s", "type": "nominal", "scale": {"paddingInner": 0.04, "paddingOuter": 0.25}}, "y": {"field": "hi", "type": "quantitative", "title": "PRAUC", "axis": {"values": [0.2, 0.3, 0.4, 0.5, 0.6, 0.7, 0.8], "format": ".1f", "labelPadding": 3, "titlePadding": 4.7, "labelOverlap": false}}}},
          {"data": {"name": "bp"}, "mark": {"type": "bar", "stroke": "#3f3f3f", "strokeWidth": 0.9, "opacity": 1, "width": 4.9},
           "encoding": {"xOffset": {"field": "s", "type": "nominal", "scale": {"paddingInner": 0.04, "paddingOuter": 0.25}}, "y": {"field": "q1", "type": "quantitative", "title": "PRAUC", "axis": {"values": [0.2, 0.3, 0.4, 0.5, 0.6, 0.7, 0.8], "format": ".1f", "labelPadding": 3, "titlePadding": 4.7, "labelOverlap": false}}, "y2": {"field": "q3"},
             "color": {"field": "s", "type": "nominal", "scale": {"domain": ["Euclidean", "Hyperboloid"], "range": ["#a6cee3", "#1f78b4"]}}}},
          {"data": {"name": "bp"}, "mark": {"type": "tick", "color": "#3f3f3f", "size": 5, "thickness": 1.1},
           "encoding": {"xOffset": {"field": "s", "type": "nominal", "scale": {"paddingInner": 0.04, "paddingOuter": 0.25}}, "y": {"field": "md", "type": "quantitative", "title": "PRAUC", "axis": {"values": [0.2, 0.3, 0.4, 0.5, 0.6, 0.7, 0.8], "format": ".1f", "labelPadding": 3, "titlePadding": 4.7, "labelOverlap": false}}}},
          {"data": {"name": "bpo"}, "mark": {"type": "point", "shape": "diamond", "filled": true, "color": "#3f3f3f", "size": 14, "opacity": 1},
           "encoding": {"xOffset": {"field": "s", "type": "nominal", "scale": {"paddingInner": 0.04, "paddingOuter": 0.25}}, "y": {"field": "v", "type": "quantitative", "title": "PRAUC", "axis": {"values": [0.2, 0.3, 0.4, 0.5, 0.6, 0.7, 0.8], "format": ".1f", "labelPadding": 3, "titlePadding": 4.7, "labelOverlap": false}}}}
        ]
      }
    ]
  }
]
}
